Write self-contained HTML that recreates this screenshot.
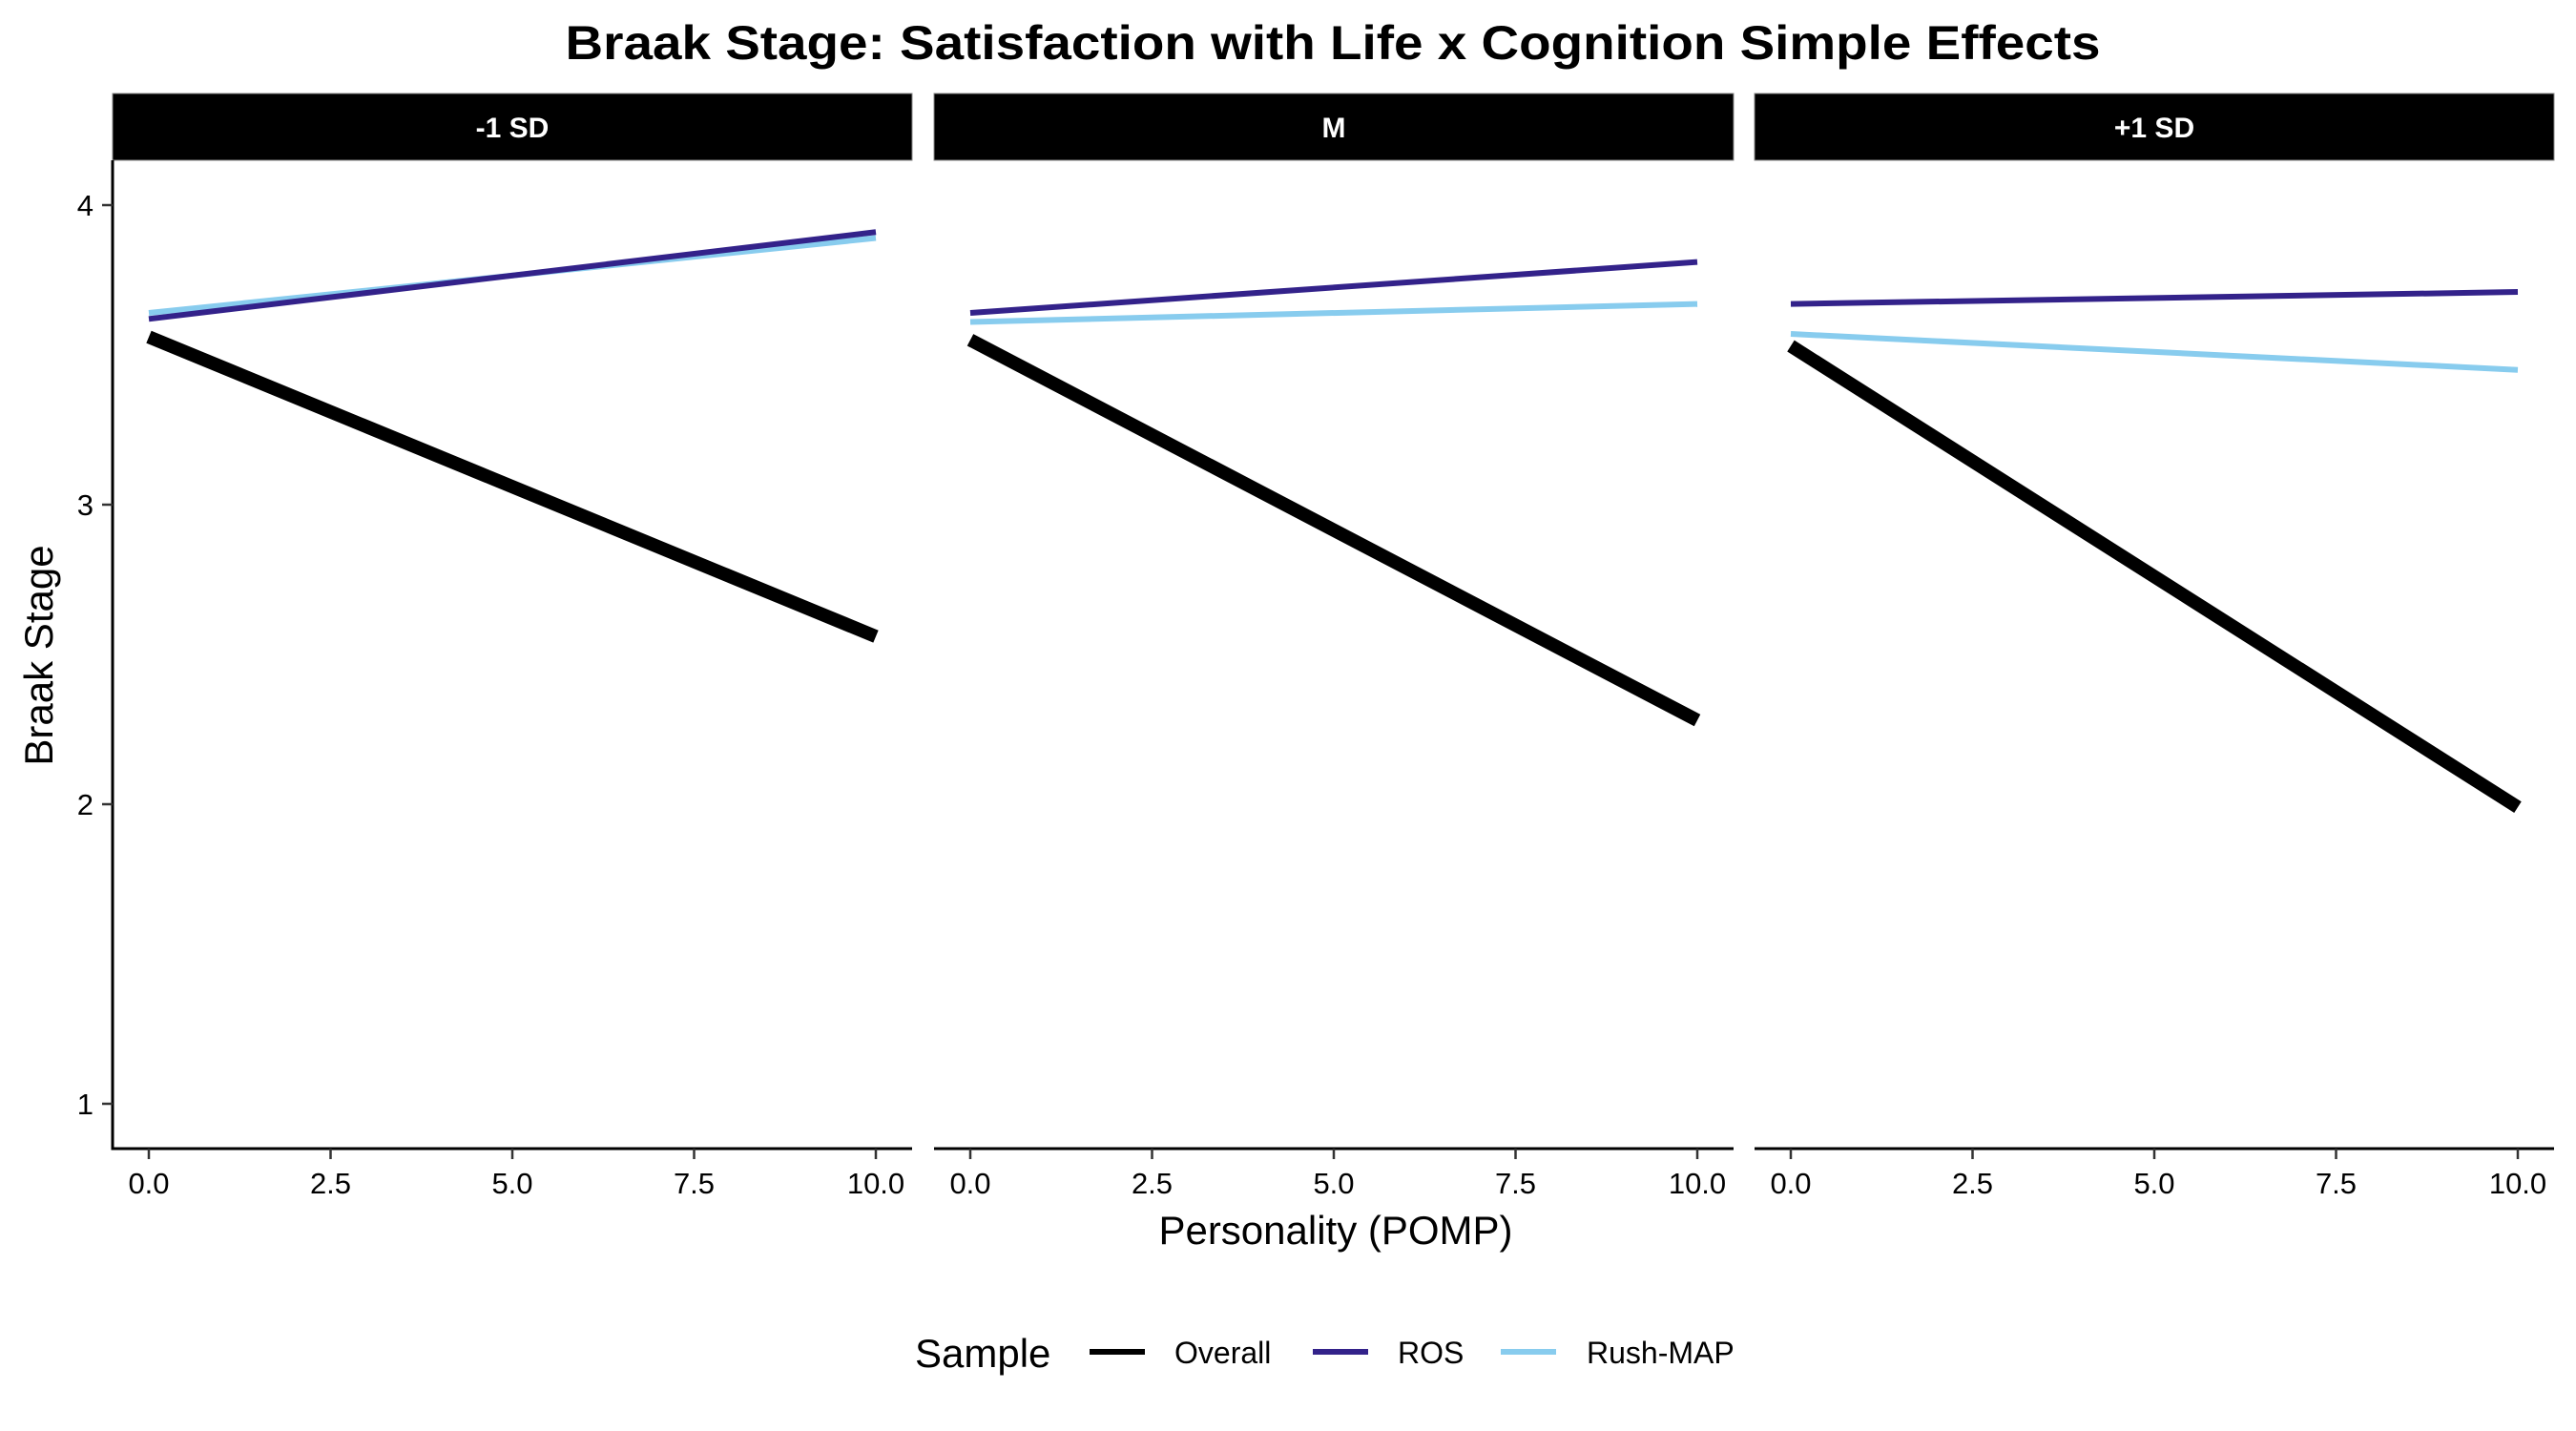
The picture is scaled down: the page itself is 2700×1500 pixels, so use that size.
<!DOCTYPE html>
<html><head><meta charset="utf-8"><style>html,body{margin:0;padding:0;background:#fff}svg{display:block}text{font-family:"Liberation Sans",Arial,sans-serif}</style></head>
<body>
<svg id="chart" width="2700" height="1500" viewBox="0 0 2700 1500" xmlns="http://www.w3.org/2000/svg">
<rect width="2700" height="1500" fill="#fff"/>
<text x="1397" y="62" font-size="50" font-weight="bold" text-anchor="middle" textLength="1609" lengthAdjust="spacingAndGlyphs">Braak Stage: Satisfaction with Life x Cognition Simple Effects</text>
<g id="panels"></g>
<text transform="translate(55,687) rotate(-90)" font-size="42" text-anchor="middle">Braak Stage</text>
<text x="1400" y="1304" font-size="42" text-anchor="middle">Personality (POMP)</text>
<g>
<text x="959" y="1433" font-size="42">Sample</text>
<line x1="1142" y1="1417" x2="1200" y2="1417" stroke="#000" stroke-width="6"/>
<text x="1231" y="1429" font-size="32">Overall</text>
<line x1="1376" y1="1417" x2="1434" y2="1417" stroke="#33228a" stroke-width="6"/>
<text x="1465" y="1429" font-size="32">ROS</text>
<line x1="1573" y1="1417" x2="1631" y2="1417" stroke="#88ccee" stroke-width="6"/>
<text x="1663" y="1429" font-size="32">Rush-MAP</text>
</g>
</svg>
<script>
const facets = ["-1 SD", "M", "+1 SD"];
const xStart = [0, 0, 0];
const xEnd = [10, 10, 10];
const overallStart = [3.56, 3.55, 3.53];
const overallEnd = [2.56, 2.28, 1.99];
const rosStart = [3.62, 3.64, 3.67];
const rosEnd = [3.91, 3.81, 3.71];
const rushStart = [3.64, 3.61, 3.57];
const rushEnd = [3.89, 3.67, 3.45];
const xTicks = [0, 2.5, 5, 7.5, 10];
const xTickLabels = ["0.0", "2.5", "5.0", "7.5", "10.0"];
const yTicks = [1, 2, 3, 4];

const NS = "http://www.w3.org/2000/svg";
const panelLeft = [118, 979, 1839];
const panelW = 838;
const yTop = 168, yBottom = 1204;
function xScale(p, v) { return panelLeft[p] + 38 + v * 76.2; }
function yScale(v) { return 215 + (4 - v) * 314; }
function mk(tag, attrs, parent) {
  const e = document.createElementNS(NS, tag);
  for (const k in attrs) e.setAttribute(k, attrs[k]);
  parent.appendChild(e);
  return e;
}
const root = document.getElementById("panels");
const series = [
  {name: "rush-map", s: rushStart, e: rushEnd, color: "#88ccee", w: 6},
  {name: "ros", s: rosStart, e: rosEnd, color: "#33228a", w: 6},
  {name: "overall", s: overallStart, e: overallEnd, color: "#000", w: 14}
];
facets.forEach((f, p) => {
  const g = mk("g", {}, root);
  
  
  const strip = mk("rect", {x: panelLeft[p], y: 98, width: panelW, height: 70, fill: "#000", stroke: "#888", "stroke-width": 1}, g);
  
  
  const st = mk("text", {x: panelLeft[p] + panelW / 2, y: 144, "font-size": 30, "font-weight": "bold", fill: "#fff", "text-anchor": "middle"}, g);
  st.textContent = f;
  
  
  const ax = mk("line", {x1: panelLeft[p], y1: yBottom, x2: panelLeft[p] + panelW, y2: yBottom, stroke: "#000", "stroke-width": 3}, g);
  
  
  xTicks.forEach((t, i) => {
    const x = xScale(p, t);
    const tk = mk("line", {x1: x, y1: yBottom, x2: x, y2: yBottom + 11, stroke: "#333", "stroke-width": 2.5}, g);
    
    
    const tl = mk("text", {x: x, y: 1251, "font-size": 31, fill: "#000", "text-anchor": "middle"}, g);
    tl.textContent = xTickLabels[i];
    
    
  });
  if (p === 0) {
    const ay = mk("line", {x1: panelLeft[0], y1: yTop, x2: panelLeft[0], y2: yBottom + 1.5, stroke: "#000", "stroke-width": 3}, g);
    
    
    yTicks.forEach(t => {
      const y = yScale(t);
      const tk = mk("line", {x1: panelLeft[0] - 11, y1: y, x2: panelLeft[0], y2: y, stroke: "#333", "stroke-width": 2.5}, g);
      
      
      const tl = mk("text", {x: 98, y: y + 11, "font-size": 31, fill: "#000", "text-anchor": "end"}, g);
      tl.textContent = String(t);
      
      
    });
  }
  series.forEach(s => {
    const ln = mk("line", {x1: xScale(p, xStart[p]), y1: yScale(s.s[p]), x2: xScale(p, xEnd[p]), y2: yScale(s.e[p]), stroke: s.color, "stroke-width": s.w}, g);
    
    
  });
});
</script>
</body></html>
